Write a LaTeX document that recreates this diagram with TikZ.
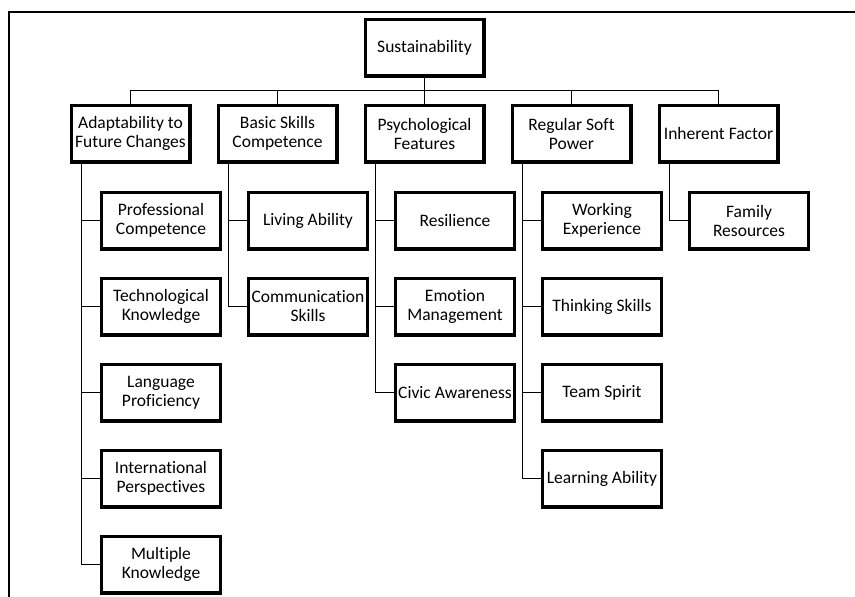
\documentclass[tikz,border=0pt]{standalone}
\usepackage{fontspec}
\setmainfont{Carlito}[Ligatures=NoCommon]
\usetikzlibrary{positioning}
\usetikzlibrary{shadows}

\tikzset{
  factor/.style={draw, rectangle, line width=3.3pt, minimum width=118.7pt, minimum height=56.7pt,
    inner sep=1pt, align=center, fill=white,
    drop shadow={shadow xshift=1.5pt, shadow yshift=-1.5pt, opacity=.3},
    font=\fontsize{17.5}{19}\selectfont},
  link/.style={line width=1.9pt}
}

\begin{document}
\begin{tikzpicture}
  \useasboundingbox (0,0) rectangle (855pt,-597pt);

  % Frame
  \draw[link] (9pt,-597pt) |- (855pt,-12pt);

  % Define nodes
  \node[factor] (sus) at (424.5pt,-47.5pt) {Sustainability};
  \node[factor, below=26pt of sus] (psych) {Psychological\\Features};
  \node[factor, left=25pt of psych] (basic) {Basic Skills\\Competence};
  \node[factor, left=25pt of basic] (adapt) {Adaptability to\\Future Changes};
  \node[factor, right=25pt of psych] (soft) {Regular Soft\\Power};
  \node[factor, right=25pt of soft] (inher) {Inherent Factor};

  \node[factor, below=27pt of adapt, xshift=30.5pt] (prof) {Professional\\Competence};
  \node[factor, below=26pt of prof] (tech) {Technological\\Knowledge};
  \node[factor, below=26pt of tech] (lang) {Language\\Proficiency};
  \node[factor, below=26pt of lang] (intl) {International\\Perspectives};
  \node[factor, below=26pt of intl] (multi) {Multiple\\Knowledge};

  \node[factor, below=27pt of basic, xshift=30.5pt] (living) {Living Ability};
  \node[factor, below=26pt of living] (comm) {Communication\\Skills};

  \node[factor, below=27pt of psych, xshift=30.5pt] (resil) {Resilience};
  \node[factor, below=26pt of resil] (emot) {Emotion\\Management};
  \node[factor, below=26pt of emot] (civic) {Civic Awareness};

  \node[factor, below=27pt of soft, xshift=30.5pt] (work) {Working\\Experience};
  \node[factor, below=26pt of work] (think) {Thinking Skills};
  \node[factor, below=26pt of think] (team) {Team Spirit};
  \node[factor, below=26pt of team] (learn) {Learning Ability};

  \node[factor, below=27pt of inher, xshift=30.5pt] (family) {Family\\Resources};

  % Connect the nodes
  \draw[link] (sus.south) -- ++(0,-13pt) -| (adapt.north);
  \draw[link] (sus.south) -- ++(0,-13pt) -| (basic.north);
  \draw[link] (sus.south) -- (psych.north);
  \draw[link] (sus.south) -- ++(0,-13pt) -| (soft.north);
  \draw[link] (sus.south) -- ++(0,-13pt) -| (inher.north);

  \draw[link] ([xshift=12pt]adapt.south west) |- (prof.west);
  \draw[link] ([xshift=12pt]adapt.south west) |- (tech.west);
  \draw[link] ([xshift=12pt]adapt.south west) |- (lang.west);
  \draw[link] ([xshift=12pt]adapt.south west) |- (intl.west);
  \draw[link] ([xshift=12pt]adapt.south west) |- (multi.west);

  \draw[link] ([xshift=12pt]basic.south west) |- (living.west);
  \draw[link] ([xshift=12pt]basic.south west) |- (comm.west);

  \draw[link] ([xshift=12pt]psych.south west) |- (resil.west);
  \draw[link] ([xshift=12pt]psych.south west) |- (emot.west);
  \draw[link] ([xshift=12pt]psych.south west) |- (civic.west);

  \draw[link] ([xshift=12pt]soft.south west) |- (work.west);
  \draw[link] ([xshift=12pt]soft.south west) |- (think.west);
  \draw[link] ([xshift=12pt]soft.south west) |- (team.west);
  \draw[link] ([xshift=12pt]soft.south west) |- (learn.west);

  \draw[link] ([xshift=12pt]inher.south west) |- (family.west);

\end{tikzpicture}
\end{document}
